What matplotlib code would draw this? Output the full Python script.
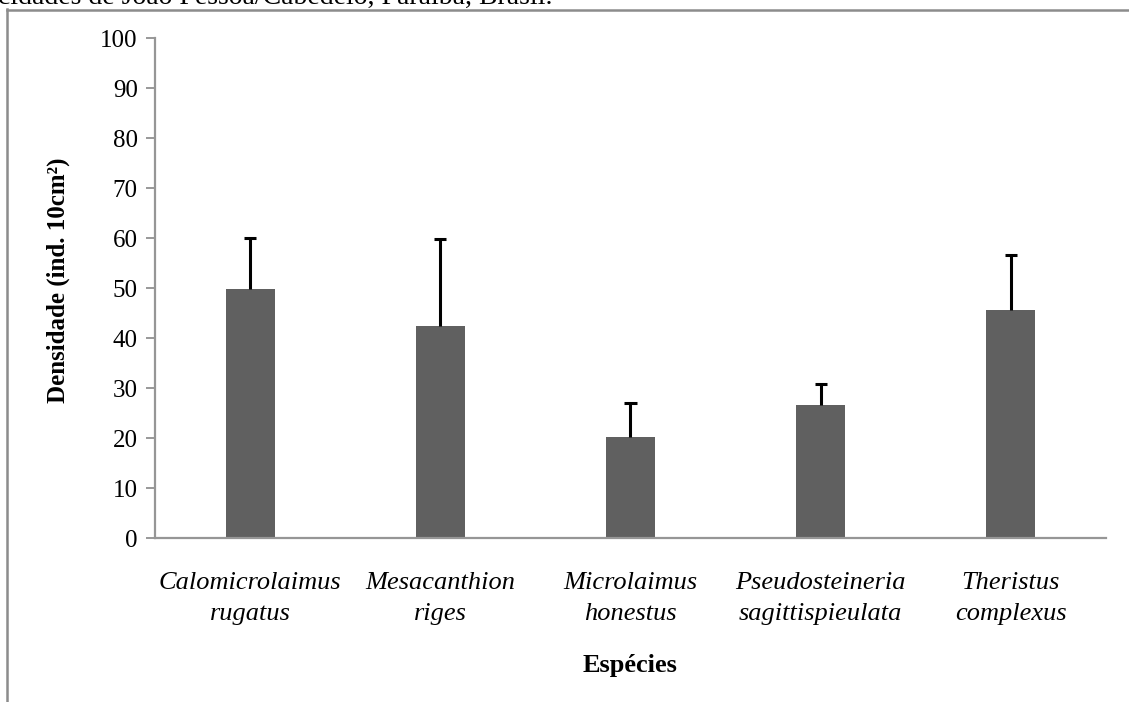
import matplotlib
matplotlib.use('Agg')
import matplotlib.pyplot as plt
import matplotlib.ticker as ticker
from matplotlib.lines import Line2D

plt.rcParams['font.family'] = ['Liberation Serif', 'DejaVu Serif']

especies = ['Calomicrolaimus\nrugatus', 'Mesacanthion\nriges', 'Microlaimus\nhonestus',
            'Pseudosteineria\nsagittispieulata', 'Theristus\ncomplexus']
densidade = [49.9, 42.5, 20.2, 26.6, 45.7]
erro = [10.2, 17.3, 6.8, 4.2, 10.9]

fig = plt.figure(figsize=(11.29, 7.02), dpi=100)
ax = fig.add_axes([0.1373, 0.2332, 0.8423, 0.7122])

x = list(range(len(especies)))
topo = [d + e for d, e in zip(densidade, erro)]
ax.bar(x, densidade, width=0.257, color='#606060', zorder=2)
# barras de erro só para cima, com traço no topo
ax.vlines(x, densidade, topo, color='black', linewidth=2.2, zorder=3)
ax.hlines(topo, [i - 0.032 for i in x], [i + 0.032 for i in x], color='black', linewidth=2.2, zorder=3)

ax.set_xlim(-0.5, 4.5)
ax.set_ylim(0, 100)
ax.yaxis.set_major_locator(ticker.MultipleLocator(10))
ax.set_xticks(x)
ax.set_xticklabels(especies, fontstyle='italic', fontsize=19, linespacing=1.55)
ax.tick_params(axis='x', length=0, pad=24)
ax.tick_params(axis='y', length=6.5, width=1.2, color='#868686', labelsize=18, pad=6)

for side in ['top', 'right']:
    ax.spines[side].set_visible(False)
for side in ['left', 'bottom']:
    ax.spines[side].set_color('#969696')
    ax.spines[side].set_linewidth(1.6)

ax.set_ylabel('Densidade (ind. 10cm²)', fontsize=18, fontweight='bold')
ax.yaxis.set_label_coords(-0.089, 0.516)
ax.set_xlabel('Espécies', fontsize=19, fontweight='bold', labelpad=21)

# moldura da figura e trecho da legenda acima
fig.add_artist(Line2D([7 / 1129, 7 / 1129], [0, 1 - 9 / 702], color='#8c8c8c', linewidth=1.8))
fig.add_artist(Line2D([7 / 1129, 1], [1 - 10 / 702, 1 - 10 / 702], color='#8c8c8c', linewidth=1.8))
fig.text(-2 / 1129, 1 - 4 / 702, 'cidades de João Pessoa/Cabedelo, Paraíba, Brasil.',
         fontsize=20, ha='left', va='baseline')

fig.savefig('out.png', dpi=100)
